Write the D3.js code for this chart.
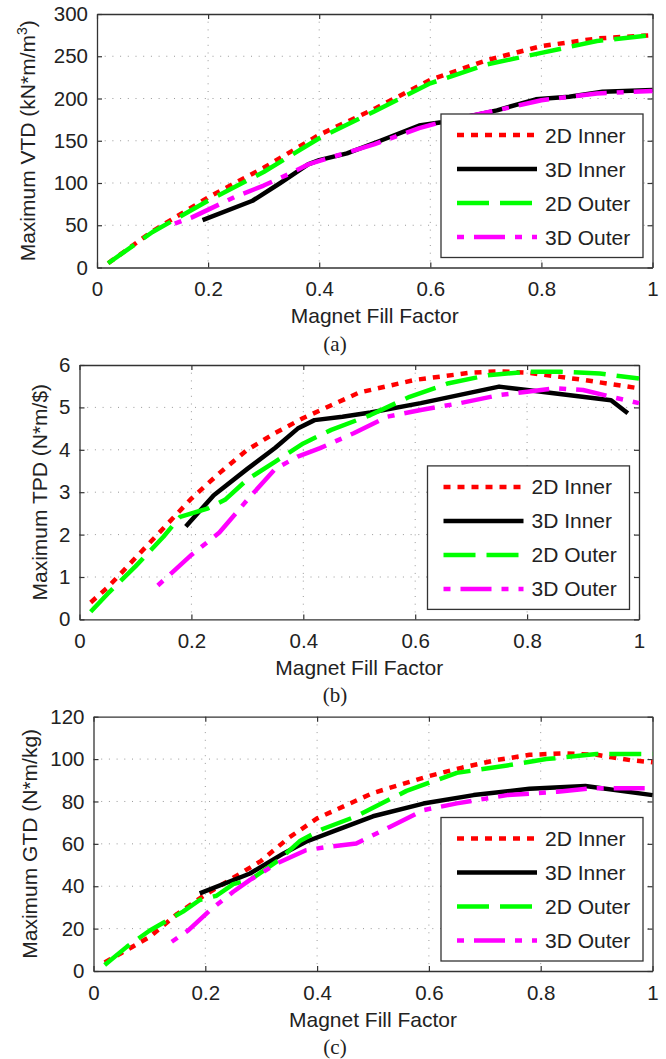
<!DOCTYPE html>
<html>
<head>
<meta charset="utf-8">
<script src="https://cdn.jsdelivr.net/npm/d3@7/dist/d3.min.js"></script>
<style>
body { margin: 0; background: #fff; }
svg text { font-family: "Liberation Sans", Arial, Helvetica, sans-serif; fill: #222; }
</style>
</head>
<body>
<div id="chart"></div>
<script>
var series_names = ["2D Inner", "3D Inner", "2D Outer", "3D Outer"]
var series_colors = ["#ff0000", "#000000", "#00ff00", "#ff00ff"]
var series_dash = ["7,7", null, "32,11", "7,10,31,10"]
var x_ticks = [0, 0.2, 0.4, 0.6, 0.8, 1]

// (a) Maximum VTD
var vtd_ticks = [0, 50, 100, 150, 200, 250, 300]
var vtd_2d_inner_x = [0.02, 0.1, 0.2, 0.3, 0.4, 0.5, 0.6, 0.7, 0.8, 0.9, 1.0]
var vtd_2d_inner_y = [5, 43, 83, 118, 157, 188, 222, 245, 262, 271, 275]
var vtd_3d_inner_x = [0.19, 0.28, 0.33, 0.38, 0.40, 0.45, 0.51, 0.58, 0.62, 0.72, 0.79, 0.85, 0.91, 1.0]
var vtd_3d_inner_y = [56, 79, 100, 122, 127, 135, 150, 168, 172, 186, 199, 202, 208, 210]
var vtd_2d_outer_x = [0.02, 0.1, 0.2, 0.3, 0.4, 0.5, 0.6, 0.7, 0.8, 0.9, 1.0]
var vtd_2d_outer_y = [5, 42, 79, 113, 153, 185, 218, 240, 254, 268, 275]
var vtd_3d_outer_x = [0.14, 0.17, 0.25, 0.3, 0.35, 0.38, 0.42, 0.5, 0.58, 0.62, 0.72, 0.8, 0.9, 1.0]
var vtd_3d_outer_y = [52, 59, 84, 97, 112, 122, 130, 146, 165, 172, 186, 198, 206, 209]

// (b) Maximum TPD
var tpd_ticks = [0, 1, 2, 3, 4, 5, 6]
var tpd_2d_inner_x = [0.02, 0.05, 0.1, 0.15, 0.2, 0.25, 0.3, 0.35, 0.4, 0.45, 0.5, 0.6, 0.7, 0.75, 0.8, 0.9, 1.0]
var tpd_2d_inner_y = [0.4, 0.75, 1.45, 2.15, 2.85, 3.45, 4.0, 4.4, 4.75, 5.05, 5.35, 5.65, 5.82, 5.85, 5.82, 5.65, 5.45]
var tpd_3d_inner_x = [0.19, 0.24, 0.3, 0.35, 0.39, 0.42, 0.47, 0.52, 0.61, 0.75, 0.8, 0.95, 0.98]
var tpd_3d_inner_y = [2.19, 2.93, 3.55, 4.05, 4.5, 4.7, 4.78, 4.88, 5.1, 5.49, 5.41, 5.17, 4.86]
var tpd_2d_outer_x = [0.02, 0.05, 0.1, 0.15, 0.18, 0.23, 0.26, 0.3, 0.35, 0.4, 0.45, 0.52, 0.59, 0.66, 0.73, 0.8, 0.86, 0.93, 1.0]
var tpd_2d_outer_y = [0.18, 0.6, 1.25, 1.95, 2.42, 2.62, 2.82, 3.3, 3.72, 4.15, 4.47, 4.82, 5.25, 5.57, 5.76, 5.84, 5.84, 5.8, 5.68]
var tpd_3d_outer_x = [0.14, 0.2, 0.25, 0.3, 0.35, 0.39, 0.43, 0.49, 0.55, 0.61, 0.68, 0.75, 0.8, 0.85, 0.9, 0.95, 1.0]
var tpd_3d_outer_y = [0.8, 1.52, 2.05, 2.82, 3.55, 3.84, 4.04, 4.39, 4.78, 4.94, 5.1, 5.29, 5.37, 5.45, 5.41, 5.25, 5.1]

// (c) Maximum GTD
var gtd_ticks = [0, 20, 40, 60, 80, 100, 120]
var gtd_2d_inner_x = [0.02, 0.05, 0.1, 0.15, 0.2, 0.25, 0.3, 0.35, 0.4, 0.45, 0.5, 0.6, 0.66, 0.72, 0.78, 0.84, 0.9, 0.96, 1.0]
var gtd_2d_inner_y = [4, 8.5, 16, 27, 36, 44, 52, 63, 72, 78, 84, 92, 96, 99.5, 102, 102.7, 102, 99.5, 98.5]
var gtd_3d_inner_x = [0.19, 0.28, 0.34, 0.38, 0.43, 0.5, 0.59, 0.68, 0.78, 0.88, 1.0]
var gtd_3d_inner_y = [36.6, 46, 55.5, 61, 66, 73, 79, 83, 86, 87.3, 83]
var gtd_2d_outer_x = [0.02, 0.06, 0.1, 0.13, 0.16, 0.19, 0.22, 0.25, 0.28, 0.33, 0.37, 0.41, 0.47, 0.56, 0.65, 0.74, 0.81, 0.9, 1.0]
var gtd_2d_outer_y = [2.8, 11.5, 19, 23.5, 28, 33.5, 35.5, 41, 43, 52, 61.5, 67, 73, 85, 93.5, 97, 100, 102.4, 102.4]
var gtd_3d_outer_x = [0.14, 0.17, 0.21, 0.25, 0.28, 0.33, 0.38, 0.42, 0.47, 0.53, 0.59, 0.65, 0.74, 0.83, 0.89, 1.0]
var gtd_3d_outer_y = [13.8, 19.3, 29, 37.4, 43, 51, 57, 58.6, 60.2, 68, 75.9, 79.1, 83, 84.6, 86.2, 86.2]

function zip_xy(xs, ys) {
    var out = [];
    for (var i = 0; i < xs.length; ++i) out.push([xs[i], ys[i]]);
    return out;
}

var panels = [
    {
        left: 97, right: 652.5, top: 14, bottom: 267.5, ylabel_x: 35,
        y_ticks: vtd_ticks, ylabel: "Maximum VTD (kN*m/m", ylabel_sup: "3", ylabel_end: ")", caption: "(a)",
        series: [zip_xy(vtd_2d_inner_x, vtd_2d_inner_y), zip_xy(vtd_3d_inner_x, vtd_3d_inner_y),
                 zip_xy(vtd_2d_outer_x, vtd_2d_outer_y), zip_xy(vtd_3d_outer_x, vtd_3d_outer_y)]
    },
    {
        left: 79.5, right: 639, top: 365, bottom: 619.4, ylabel_x: 46.5,
        y_ticks: tpd_ticks, ylabel: "Maximum TPD (N*m/$)", caption: "(b)",
        series: [zip_xy(tpd_2d_inner_x, tpd_2d_inner_y), zip_xy(tpd_3d_inner_x, tpd_3d_inner_y),
                 zip_xy(tpd_2d_outer_x, tpd_2d_outer_y), zip_xy(tpd_3d_outer_x, tpd_3d_outer_y)]
    },
    {
        left: 93.5, right: 652.5, top: 716.7, bottom: 971, ylabel_x: 36.7,
        y_ticks: gtd_ticks, ylabel: "Maximum GTD (N*m/kg)", caption: "(c)",
        series: [zip_xy(gtd_2d_inner_x, gtd_2d_inner_y), zip_xy(gtd_3d_inner_x, gtd_3d_inner_y),
                 zip_xy(gtd_2d_outer_x, gtd_2d_outer_y), zip_xy(gtd_3d_outer_x, gtd_3d_outer_y)]
    }
]

var svg = d3.select("#chart")
    .append("svg")
    .attr("width", 666)
    .attr("height", 1059)

var plain_num = function (d) { return d3.format("")(d); }

function draw_panel(p) {
    var g = svg.append("g");
    var x_scale = d3.scaleLinear().domain([0, 1]).range([p.left, p.right]);
    var y_max = p.y_ticks[p.y_ticks.length - 1];
    var y_scale = d3.scaleLinear().domain([0, y_max]).range([p.bottom, p.top]);

    // dotted grid (inner ticks only)
    g.selectAll(".gx").data(x_ticks.slice(1, -1))
        .enter().append("line")
        .attr("x1", function (d) { return x_scale(d); })
        .attr("x2", function (d) { return x_scale(d); })
        .attr("y1", p.top).attr("y2", p.bottom)
        .attr("stroke", "#999").attr("stroke-width", 1)
        .attr("stroke-dasharray", "1,6.7");
    g.selectAll(".gy").data(p.y_ticks.slice(1, -1))
        .enter().append("line")
        .attr("y1", function (d) { return y_scale(d); })
        .attr("y2", function (d) { return y_scale(d); })
        .attr("x1", p.left).attr("x2", p.right)
        .attr("stroke", "#999").attr("stroke-width", 1)
        .attr("stroke-dasharray", "1,6.7");

    // axes, ticks pointing inward on all four sides
    var ax_bottom = d3.axisBottom(x_scale).tickValues(x_ticks).tickSizeInner(-5).tickSizeOuter(0)
        .tickPadding(14).tickFormat(plain_num);
    var ax_top = d3.axisTop(x_scale).tickValues(x_ticks).tickSizeInner(-5).tickSizeOuter(0).tickFormat("");
    var ax_left = d3.axisLeft(y_scale).tickValues(p.y_ticks).tickSizeInner(-5).tickSizeOuter(0)
        .tickPadding(9).tickFormat(plain_num);
    var ax_right = d3.axisRight(y_scale).tickValues(p.y_ticks).tickSizeInner(-5).tickSizeOuter(0).tickFormat("");

    var axes = [
        g.append("g").attr("transform", "translate(0," + p.bottom + ")").call(ax_bottom),
        g.append("g").attr("transform", "translate(0," + p.top + ")").call(ax_top),
        g.append("g").attr("transform", "translate(" + p.left + ",0)").call(ax_left),
        g.append("g").attr("transform", "translate(" + p.right + ",0)").call(ax_right)
    ];
    axes.forEach(function (a) {
        a.select(".domain").attr("stroke", "#333").attr("stroke-width", 1.3);
        a.selectAll(".tick line").attr("stroke", "#333").attr("stroke-width", 1.2);
        a.selectAll("text").attr("font-size", 20.5).attr("font-family", null).attr("fill", "#222");
    });

    // series lines
    var line = d3.line()
        .x(function (d) { return x_scale(d[0]); })
        .y(function (d) { return y_scale(d[1]); });
    p.series.forEach(function (s, i) {
        g.append("path")
            .datum(s)
            .attr("d", line)
            .attr("fill", "none")
            .attr("stroke", series_colors[i])
            .attr("stroke-width", 4.5)
            .attr("stroke-linejoin", "round")
            .attr("stroke-dasharray", series_dash[i]);
    });

    // legend, bottom right inside the box
    var lg_w = 202, lg_h = 143.5;
    var lg_x = p.right - 9.5 - lg_w;
    var lg_y = p.bottom - 10 - lg_h;
    var lg = g.append("g").attr("transform", "translate(" + lg_x + "," + lg_y + ")");
    lg.append("rect")
        .attr("width", lg_w).attr("height", lg_h)
        .attr("fill", "#fff").attr("stroke", "#333").attr("stroke-width", 1.3);
    series_names.forEach(function (name, i) {
        var yy = 21 + i * 34;
        lg.append("line")
            .attr("x1", 16).attr("x2", 96)
            .attr("y1", yy).attr("y2", yy)
            .attr("stroke", series_colors[i])
            .attr("stroke-width", 4.5)
            .attr("stroke-dasharray", series_dash[i]);
        lg.append("text")
            .attr("x", 104).attr("y", yy)
            .attr("dy", "0.36em")
            .attr("font-size", 21)
            .text(name);
    });

    // axis labels
    g.append("text")
        .attr("x", (p.left + p.right) / 2)
        .attr("y", p.bottom + 55.5)
        .attr("text-anchor", "middle")
        .attr("font-size", 21)
        .text("Magnet Fill Factor");
    var yl = g.append("text")
        .attr("transform", "translate(" + p.ylabel_x + "," + (p.top + p.bottom) / 2 + ") rotate(-90)")
        .attr("text-anchor", "middle")
        .attr("font-size", 21)
        .text(p.ylabel);
    if (p.ylabel_sup) {
        yl.append("tspan").attr("font-size", 14).attr("dy", -8).text(p.ylabel_sup);
        yl.append("tspan").attr("dy", 8).text(p.ylabel_end);
    }

    // caption
    g.append("text")
        .attr("x", 335)
        .attr("y", p.bottom + 83)
        .attr("text-anchor", "middle")
        .attr("font-size", 21)
        .style("font-family", "'Liberation Serif', 'Times New Roman', serif")
        .attr("fill", "#000")
        .text(p.caption);
}

panels.forEach(draw_panel);
</script>
</body>
</html>
